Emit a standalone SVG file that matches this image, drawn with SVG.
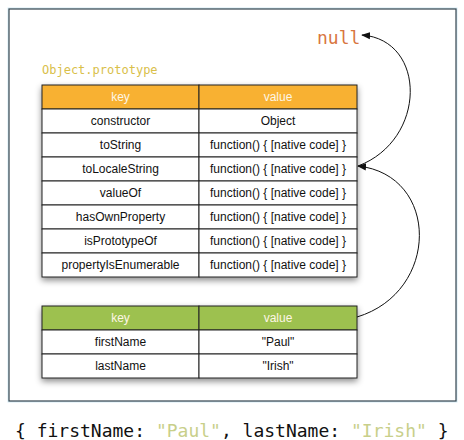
<svg xmlns="http://www.w3.org/2000/svg" width="464" height="440" viewBox="0 0 464 440">
<style>
.frame{fill:#ffffff;stroke:#34434d;stroke-width:1.2}
.glow{fill:none;stroke:#d6ecf5;stroke-width:3}
.cell{fill:#ffffff;stroke:#222;stroke-width:1}
.hdrO{fill:#f8b133;stroke:#222;stroke-width:1}
.hdrG{fill:#9dc150;stroke:#222;stroke-width:1}
.ht{font-family:"Liberation Sans",Arial,sans-serif;font-size:12px;fill:#fdf6e6;text-anchor:middle}
.t{font-family:"Liberation Sans",Arial,sans-serif;font-size:12px;fill:#111;text-anchor:middle}
.mono{font-family:"DejaVu Sans Mono",monospace}
.conn{fill:none;stroke:#111;stroke-width:1}
</style>
<defs>
<filter id="sh" x="-10%" y="-10%" width="120%" height="130%">
<feDropShadow dx="0" dy="3" stdDeviation="3" flood-color="#000" flood-opacity="0.45"/>
</filter>
<marker id="ah" viewBox="0 0 10 10" refX="9" refY="5" markerWidth="9" markerHeight="9" markerUnits="userSpaceOnUse" orient="auto">
<path d="M0,1 L10,5 L0,9 Z" fill="#111"/>
</marker>
</defs>
<rect width="464" height="440" fill="#ffffff"/>
<rect class="glow" x="9" y="9" width="447" height="392"/>
<rect class="frame" x="9" y="9" width="447" height="392"/>

<g id="null-label">
<text class="mono" x="317" y="44" font-size="18" fill="#d8763f">null</text>
</g>

<g id="object-prototype">
<text class="mono" x="42" y="74" font-size="12" fill="#d9c04a">Object.prototype</text>
<g filter="url(#sh)">
<rect class="hdrO" x="42" y="85" width="157" height="24"/>
<rect class="hdrO" x="199" y="85" width="158" height="24"/>
<rect class="cell" x="42" y="109" width="157" height="24"/><rect class="cell" x="199" y="109" width="158" height="24"/>
<rect class="cell" x="42" y="133" width="157" height="24"/><rect class="cell" x="199" y="133" width="158" height="24"/>
<rect class="cell" x="42" y="157" width="157" height="24"/><rect class="cell" x="199" y="157" width="158" height="24"/>
<rect class="cell" x="42" y="181" width="157" height="24"/><rect class="cell" x="199" y="181" width="158" height="24"/>
<rect class="cell" x="42" y="205" width="157" height="24"/><rect class="cell" x="199" y="205" width="158" height="24"/>
<rect class="cell" x="42" y="229" width="157" height="24"/><rect class="cell" x="199" y="229" width="158" height="24"/>
<rect class="cell" x="42" y="253" width="157" height="24"/><rect class="cell" x="199" y="253" width="158" height="24"/>
</g>
<text class="ht" x="120.5" y="101">key</text><text class="ht" x="278" y="101">value</text>
<text class="t" x="120.5" y="125">constructor</text><text class="t" x="278" y="125">Object</text>
<text class="t" x="120.5" y="149">toString</text><text class="t" x="278" y="149">function() { [native code] }</text>
<text class="t" x="120.5" y="173">toLocaleString</text><text class="t" x="278" y="173">function() { [native code] }</text>
<text class="t" x="120.5" y="197">valueOf</text><text class="t" x="278" y="197">function() { [native code] }</text>
<text class="t" x="120.5" y="221">hasOwnProperty</text><text class="t" x="278" y="221">function() { [native code] }</text>
<text class="t" x="120.5" y="245">isPrototypeOf</text><text class="t" x="278" y="245">function() { [native code] }</text>
<text class="t" x="120.5" y="269">propertyIsEnumerable</text><text class="t" x="278" y="269">function() { [native code] }</text>
</g>

<g id="instance-object">
<g filter="url(#sh)">
<rect class="hdrG" x="42" y="306" width="157" height="24"/>
<rect class="hdrG" x="199" y="306" width="158" height="24"/>
<rect class="cell" x="42" y="330" width="157" height="24"/><rect class="cell" x="199" y="330" width="158" height="24"/>
<rect class="cell" x="42" y="354" width="157" height="24"/><rect class="cell" x="199" y="354" width="158" height="24"/>
</g>
<text class="ht" x="120.5" y="322">key</text><text class="ht" x="278" y="322">value</text>
<text class="t" x="120.5" y="346">firstName</text><text class="t" x="278" y="346">"Paul"</text>
<text class="t" x="120.5" y="370">lastName</text><text class="t" x="278" y="370">"Irish"</text>
</g>

<g id="connectors">
<path class="conn" d="M358,166 C427,140 427,40 362,35" marker-end="url(#ah)"/>
<path class="conn" d="M357,317 C440,292 440,175 358,166" marker-end="url(#ah)"/>
</g>

<g id="literal">
<text class="mono" x="15" y="437" font-size="18" fill="#111" xml:space="preserve">{ firstName: <tspan fill="#c8cf8a">"Paul"</tspan>, lastName: <tspan fill="#c8cf8a">"Irish"</tspan> }</text>
</g>
</svg>
